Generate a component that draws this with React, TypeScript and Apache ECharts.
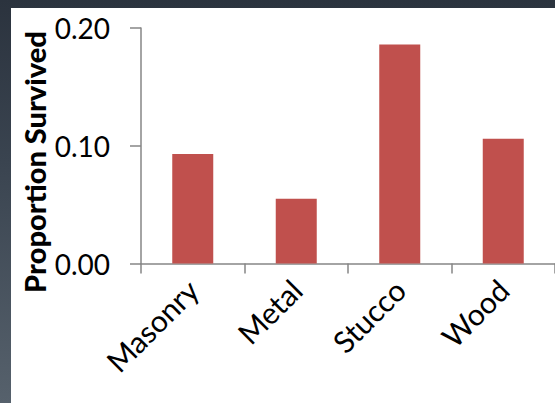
import React, { useEffect, useRef } from "react";
import * as echarts from "echarts";

const categories = ["Masonry", "Metal", "Stucco", "Wood"];
const proportionSurvived = [0.093, 0.055, 0.186, 0.106];
const yTicks = [0, 0.1, 0.2];

export default function App() {
  const ref = useRef<HTMLDivElement>(null);

  useEffect(() => {
    document.body.style.margin = "0";
    const chart = echarts.init(ref.current!, null, { renderer: "svg" });
    chart.setOption({
      animation: false,
      backgroundColor: "#ffffff",
      grid: { left: 130, top: 20, width: 415, height: 235.5 },
      xAxis: {
        type: "category",
        data: categories,
        axisLine: { show: true, lineStyle: { color: "#868686", width: 1.5 } },
        axisTick: {
          show: true,
          inside: false,
          length: 10,
          lineStyle: { color: "#868686", width: 1.5 },
        },
        axisLabel: {
          rotate: 45,
          margin: 21,
          color: "#000",
          fontFamily: "Lato",
          fontSize: 30,
        },
      },
      yAxis: {
        type: "value",
        min: yTicks[0],
        max: yTicks[yTicks.length - 1],
        interval: 0.1,
        splitLine: { show: false },
        axisLine: { show: true, lineStyle: { color: "#868686", width: 1.5 } },
        axisTick: {
          show: true,
          inside: false,
          length: 11,
          lineStyle: { color: "#868686", width: 1.5 },
        },
        axisLabel: {
          margin: 31,
          color: "#000",
          fontFamily: "Lato",
          fontSize: 28,
          formatter: (v: number) => v.toFixed(2),
        },
      },
      graphic: [
        {
          type: "text",
          x: 23,
          y: 154,
          rotation: Math.PI / 2,
          style: {
            text: "Proportion Survived",
            fontFamily: "Lato",
            fontWeight: 900,
            fontSize: 29,
            fill: "#000",
            align: "center",
            verticalAlign: "middle",
          },
        },
      ],
      series: [
        {
          type: "bar",
          data: proportionSurvived,
          barWidth: 41,
          itemStyle: { color: "#c0504d" },
        },
      ],
    });
    return () => chart.dispose();
  }, []);

  return (
    <div
      style={{
        position: "fixed",
        left: 0,
        top: 0,
        width: 555,
        height: 403,
        background: "linear-gradient(to bottom, #2b333e 0%, #3a4450 40%, #56616c 100%)",
      }}
    >
      <div
        ref={ref}
        style={{ position: "absolute", left: 11, top: 8, width: 544, height: 395 }}
      />
    </div>
  );
}
